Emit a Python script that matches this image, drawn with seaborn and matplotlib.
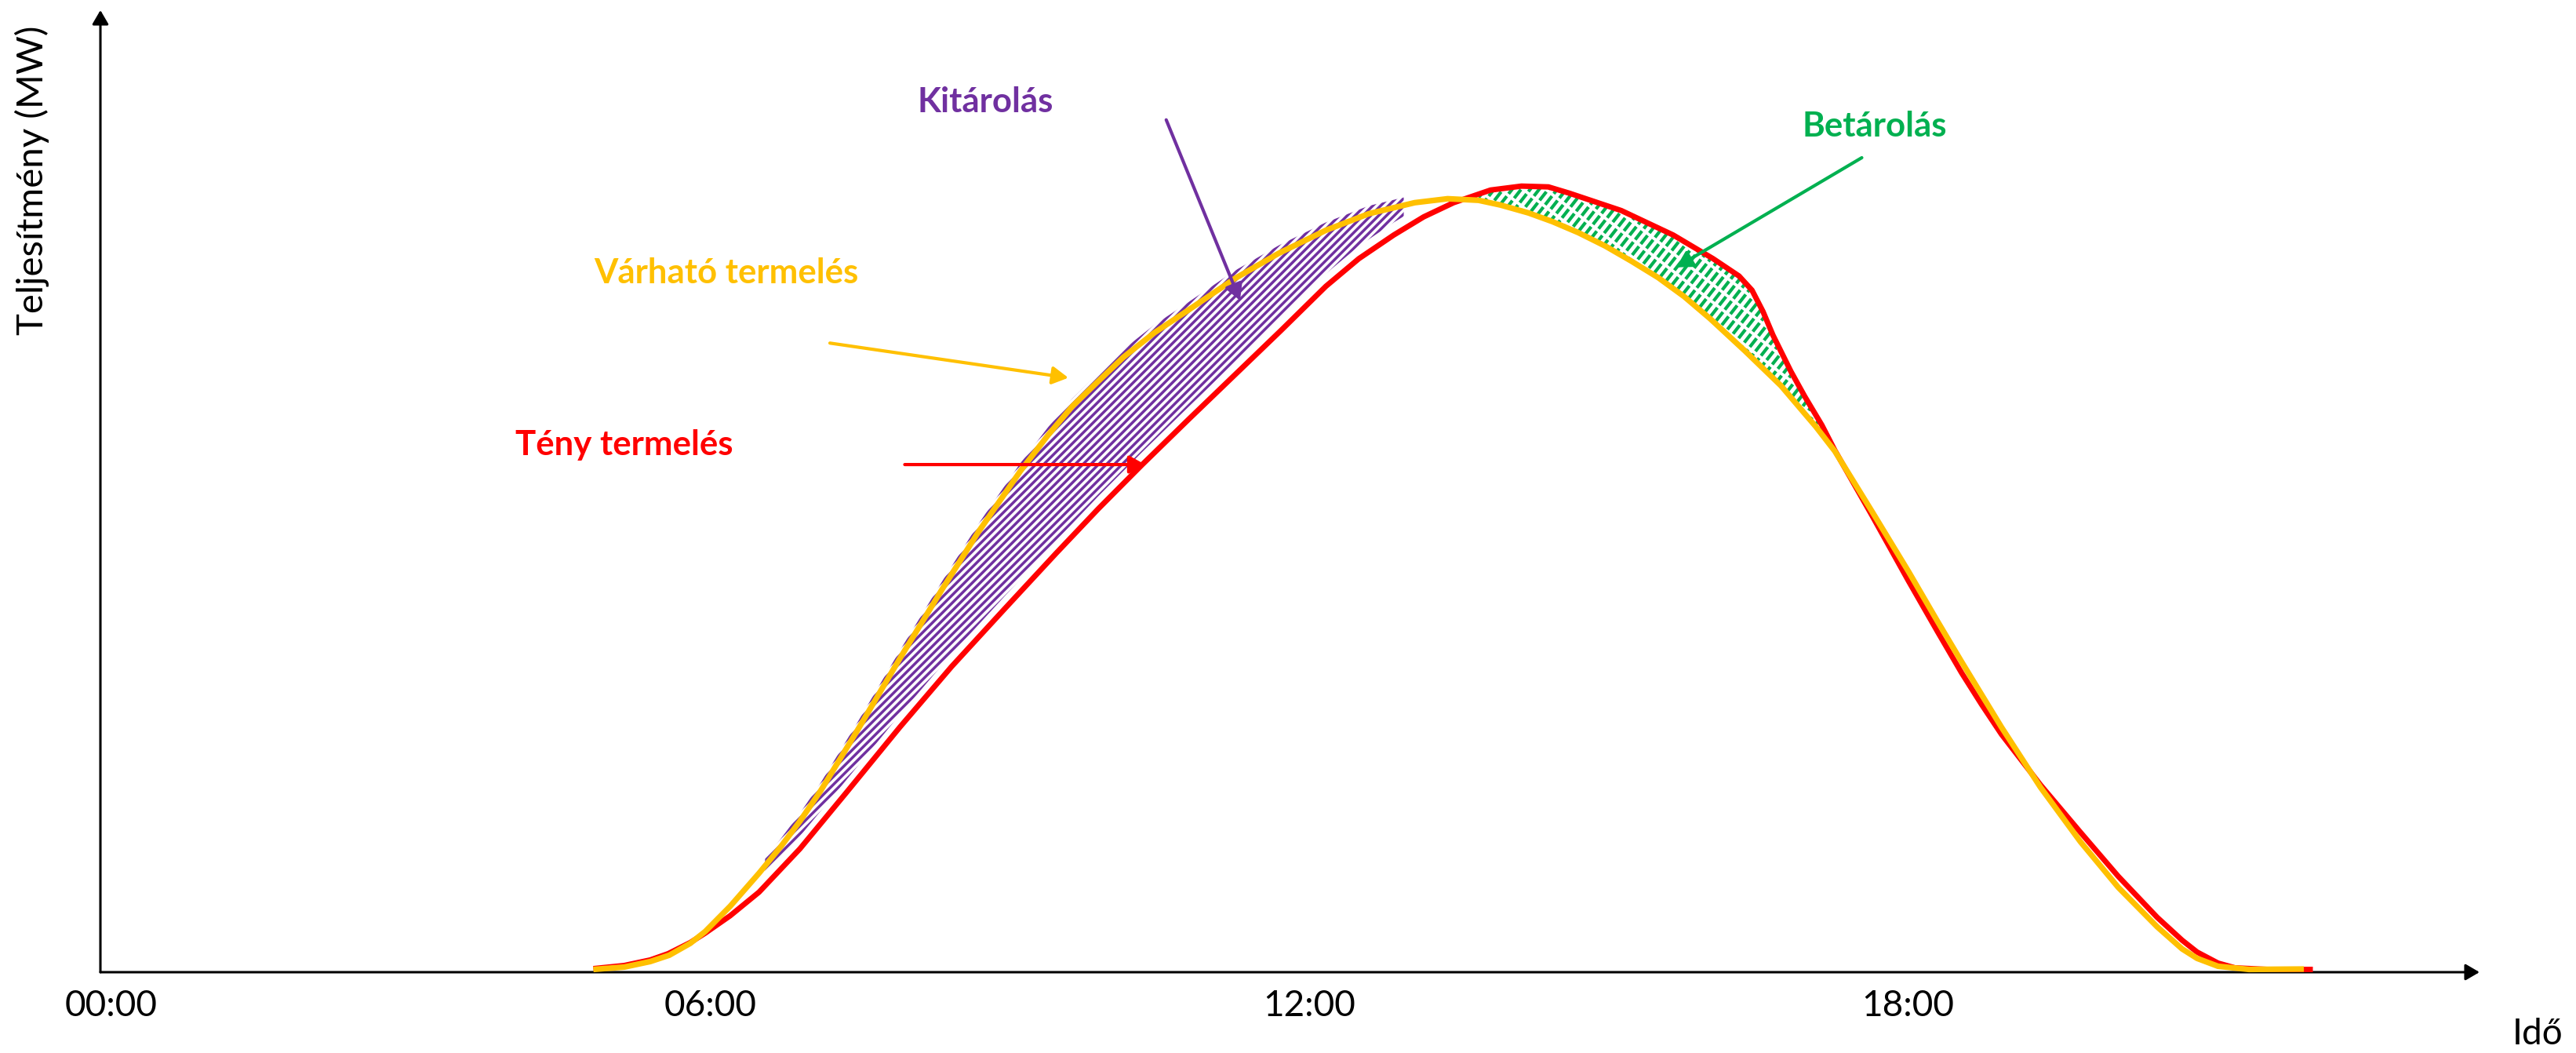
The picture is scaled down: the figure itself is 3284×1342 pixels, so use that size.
import numpy as np
import pandas as pd
import matplotlib
matplotlib.use("Agg")
import matplotlib.pyplot as plt
import seaborn as sns
from matplotlib.collections import LineCollection
from matplotlib.transforms import IdentityTransform

# ---------------- data ----------------
hours_expected = [4.83, 5.14, 5.40, 5.59, 5.80, 5.95, 6.20, 6.49, 6.71, 6.90, 7.11, 7.48,
                  7.90, 8.32, 8.69, 9.11, 9.39, 9.63, 9.90, 10.14, 10.45, 10.77, 11.26,
                  11.70, 12.17, 12.60, 13.06, 13.39, 13.70, 13.92, 14.20, 14.44, 14.70,
                  14.97, 15.23, 15.50, 15.76, 16.02, 16.37, 16.73, 17.08, 17.27, 17.64,
                  18.01, 18.30, 18.54, 18.94, 19.33, 19.73, 20.11, 20.50, 20.75, 20.90,
                  21.11, 21.42, 21.97]
mw_expected = [0.2, 0.5, 1.2, 2.0, 3.5, 5.0, 8.2, 12.4, 15.8, 19.0, 22.9, 30.6,
               39.6, 48.3, 55.7, 63.4, 68.0, 71.6, 74.9, 77.8, 80.9, 83.6, 87.8,
               91.0, 93.9, 96.0, 97.4, 97.9, 97.7, 97.1, 96.1, 95.0, 93.6,
               91.9, 90.0, 87.9, 85.5, 82.7, 78.6, 74.2, 69.0, 65.9, 58.3,
               50.6, 44.3, 39.2, 30.9, 23.3, 16.4, 10.6, 5.6, 2.8, 1.6,
               0.6, 0.2, 0.25]

hours_actual = [4.83, 5.14, 5.40, 5.58, 5.80, 5.95, 6.20, 6.49, 6.90, 7.37, 7.90, 8.42,
                8.95, 9.47, 9.89, 10.33, 10.80, 11.26, 11.72, 12.17, 12.50, 12.85, 13.15,
                13.45, 13.82, 14.13, 14.40, 14.61, 15.13, 15.65, 16.05, 16.31, 16.44,
                16.55, 16.65, 16.83, 16.97, 17.14, 17.27, 17.64, 18.01, 18.30, 18.54,
                18.74, 18.94, 19.33, 19.73, 20.11, 20.50, 20.75, 20.90, 21.11, 21.28,
                21.60, 22.06]
mw_actual = [0.3, 0.7, 1.4, 2.2, 3.6, 4.8, 7.0, 10.0, 15.5, 22.7, 30.9, 38.6,
             45.9, 53.0, 58.6, 64.2, 70.0, 75.6, 81.2, 86.8, 90.3, 93.3, 95.6,
             97.4, 99.0, 99.5, 99.4, 98.6, 96.4, 93.3, 90.3, 88.1, 86.3,
             83.6, 80.6, 76.0, 72.8, 69.2, 66.0, 57.8, 49.4, 43.0, 37.8,
             33.8, 30.0, 23.6, 17.6, 12.0, 6.8, 3.9, 2.4, 1.0, 0.4,
             0.2, 0.2]

tick_hours = [0, 6, 12, 18]
tick_labels = ["00:00", "06:00", "12:00", "18:00"]

discharge_range = [6.55, 12.95]   # Kitárolás
charge_range = [13.7, 17.25]      # Betárolás

label_expected = "Várható termelés"
label_actual = "Tény termelés"
label_discharge = "Kitárolás"
label_charge = "Betárolás"
ylabel = "Teljesítmény (MW)"
xlabel = "Idő"

YELLOW = "#FFC000"
RED = "#FF0000"
PURPLE = "#7030A0"
GREEN = "#00B050"

# ---------------- figure ----------------
sns.set_style("white")
plt.rcParams["font.family"] = ["Lato", "DejaVu Sans"]
plt.rcParams["lines.scale_dashes"] = False
plt.rcParams["text.color"] = "black"
plt.rcParams["xtick.color"] = "black"

W, H = 3284, 1342
DPI = 100
fig = plt.figure(figsize=(W / DPI, H / DPI), dpi=DPI)
ax = fig.add_axes([128 / W, (H - 1239) / H, (3161 - 128) / W, (1239 - 13) / H])

ax.set_xlim(-0.11, 23.73)
ax.set_ylim(-0.15, 121.8)
ax.set_autoscale_on(False)

df_exp = pd.DataFrame({"hour": hours_expected, "mw": mw_expected})
df_act = pd.DataFrame({"hour": hours_actual, "mw": mw_actual})

sns.lineplot(data=df_act, x="hour", y="mw", ax=ax, color=RED, linewidth=5.0,
             estimator=None, sort=False, zorder=4, clip_on=False,
             solid_capstyle="butt", solid_joinstyle="round")
sns.lineplot(data=df_exp, x="hour", y="mw", ax=ax, color=YELLOW, linewidth=5.2,
             estimator=None, sort=False, zorder=5, clip_on=False,
             solid_capstyle="butt", solid_joinstyle="round")


def hatch_region(x0, x1, upper_h, upper_v, lower_h, lower_v, color, angle_deg,
                 period_px, lw, dashes=None, up_off=0.0, lo_off=0.0):
    xg = np.linspace(x0, x1, 400)
    up = np.interp(xg, upper_h, upper_v) + up_off
    lo = np.interp(xg, lower_h, lower_v) + lo_off
    poly = ax.fill_between(xg, up, lo, facecolor="none", edgecolor="none", zorder=2)
    path = poly.get_paths()[0]
    ext = path.get_extents(ax.transData)
    th = np.deg2rad(angle_deg)
    d = np.array([np.cos(th), np.sin(th)])
    n = np.array([-np.sin(th), np.cos(th)])
    corners = np.array([[ext.x0, ext.y0], [ext.x0, ext.y1], [ext.x1, ext.y0], [ext.x1, ext.y1]])
    proj_n = corners @ n
    proj_d = corners @ d
    step = period_px * np.sin(th)
    segs = []
    for s in np.arange(proj_n.min() - step, proj_n.max() + step, step):
        p0 = s * n + (proj_d.min() - 5) * d
        p1 = s * n + (proj_d.max() + 5) * d
        segs.append([p0, p1])
    kw = dict(colors=color, linewidths=lw, transform=IdentityTransform(), zorder=3)
    if dashes is not None:
        kw["linestyles"] = [(0, dashes)]
    lc = LineCollection(segs, **kw)
    lc.set_clip_path(path, ax.transData)
    ax.add_collection(lc, autolim=False)


hatch_region(discharge_range[0], discharge_range[1], hours_expected, mw_expected,
             hours_actual, mw_actual, PURPLE, 45, 10.0, 2.5, up_off=1.0, lo_off=1.6)
hatch_region(charge_range[0], charge_range[1], hours_actual, mw_actual,
             hours_expected, mw_expected, GREEN, 52, 11.5, 3.0, dashes=(10.0, 2.8))

# ---------------- axes arrows ----------------
for sp in ax.spines.values():
    sp.set_visible(False)
axis_arrow = dict(arrowstyle="-|>,head_length=0.6,head_width=0.35", color="black",
                  lw=2.2, mutation_scale=18, shrinkA=0, shrinkB=0)
ax.annotate("", xy=(0, 1), xytext=(0, 0), xycoords="axes fraction",
            textcoords="axes fraction", arrowprops=axis_arrow, zorder=1)
ax.annotate("", xy=(1, 0), xytext=(0, 0), xycoords="axes fraction",
            textcoords="axes fraction", arrowprops=axis_arrow, zorder=1)

ax.set_xticks(tick_hours)
ax.set_xticklabels(tick_labels)
ax.set_yticks([])
ax.tick_params(axis="x", length=0, pad=16, colors="black")
for t in ax.get_xticklabels():
    t.set_fontsize(33)
    t.set_fontweight("normal")
    t.set_color("black")
ax.set_xlabel("")
ax.set_ylabel("")

fig.text(41 / W, 1 - 230 / H, ylabel, rotation=90, ha="center", va="center",
         fontsize=34, fontweight="normal", color="black")
fig.text(3235 / W, 1 - 1318 / H, xlabel, ha="center", va="center",
         fontsize=33, fontweight="normal", color="black")

# ---------------- annotations ----------------
def arrow(tail, head, color):
    ax.annotate("", xy=head, xytext=tail, xycoords="data", textcoords="data",
                arrowprops=dict(arrowstyle="-|>,head_length=0.45,head_width=0.25",
                                color=color, lw=3, mutation_scale=27,
                                shrinkA=0, shrinkB=0), zorder=6)

FS = 31.5
ax.text(8.76, 110.2, label_discharge, color=PURPLE, fontsize=FS, fontweight="bold",
        ha="center", va="center")
arrow((10.57, 107.9), (11.31, 85.0), PURPLE)

ax.text(17.67, 107.1, label_charge, color=GREEN, fontsize=FS, fontweight="bold",
        ha="center", va="center")
arrow((17.54, 103.1), (15.68, 89.2), GREEN)

ax.text(6.16, 88.5, label_expected, color=YELLOW, fontsize=FS, fontweight="bold",
        ha="center", va="center")
arrow((7.20, 79.6), (9.59, 75.2), YELLOW)

ax.text(5.14, 66.7, label_actual, color=RED, fontsize=FS, fontweight="bold",
        ha="center", va="center")
arrow((7.95, 64.2), (10.36, 64.2), RED)

fig.savefig("out.png", dpi=DPI, facecolor="white")
